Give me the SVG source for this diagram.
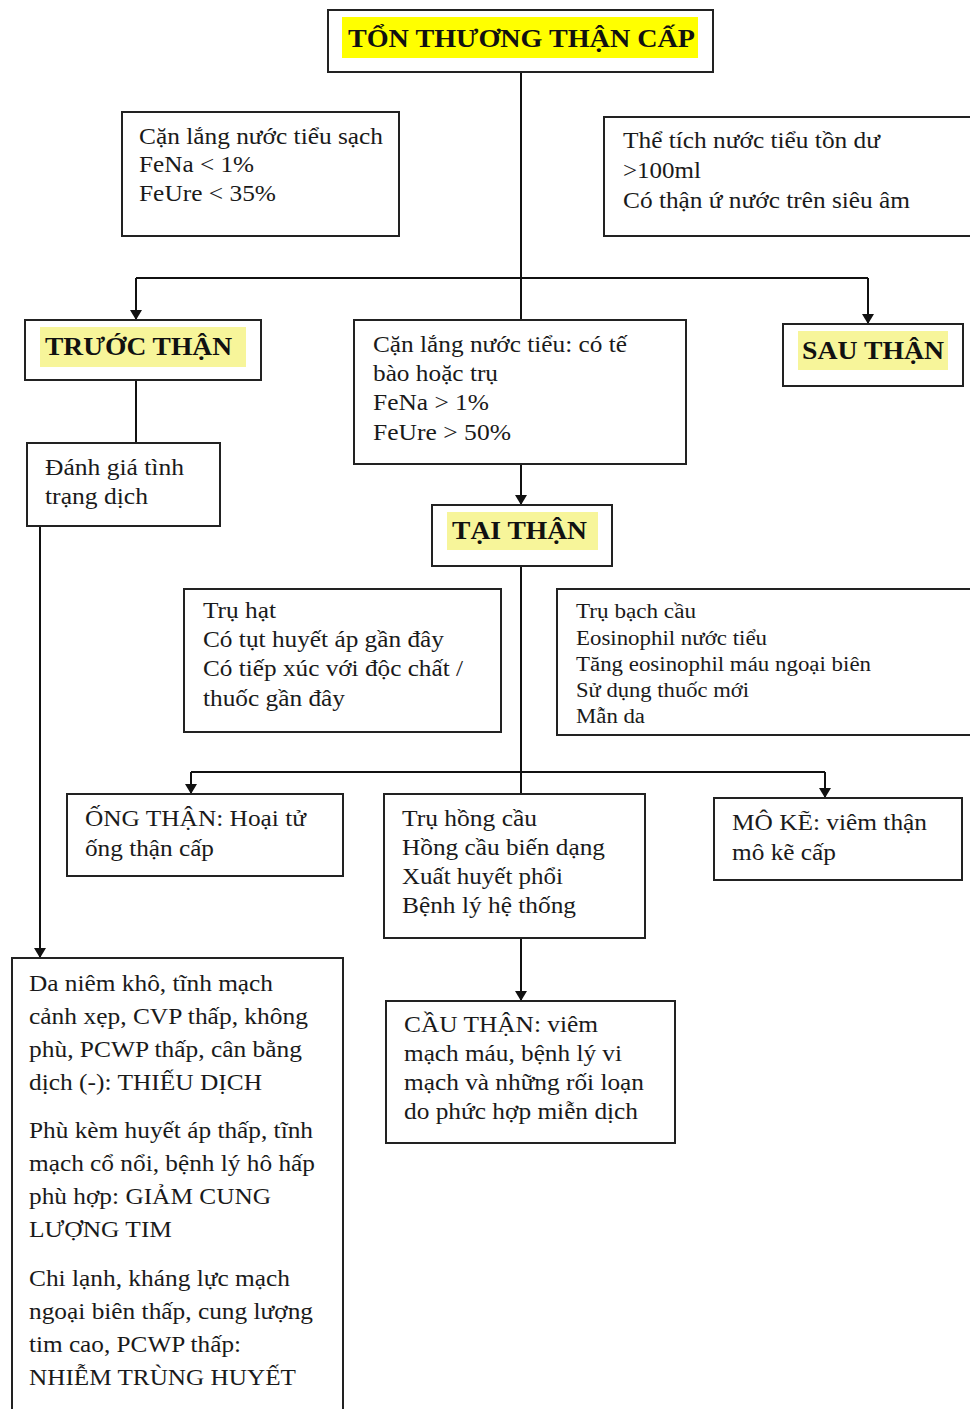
<svg xmlns="http://www.w3.org/2000/svg" width="970" height="1409" viewBox="0 0 970 1409">
  <style>
    .box { fill: #ffffff; stroke: #222222; stroke-width: 2; }
    .wire { fill: none; stroke: #111111; stroke-width: 2; }
    .t { font-family: "Liberation Serif", "Times New Roman", serif; font-size: 23.5px; fill: #1a1a1a; }
    .s { font-family: "Liberation Serif", "Times New Roman", serif; font-size: 20px; fill: #1a1a1a; }
    .b { font-family: "Liberation Serif", "Times New Roman", serif; font-size: 26px; font-weight: bold; fill: #111111; }
    .hl { fill: #f7f59a; }
    .hl-main { fill: #ffff00; }
  </style>
  <defs>
    <marker id="arrow" viewBox="0 0 10 12" refX="10" refY="6" markerWidth="10" markerHeight="12" markerUnits="userSpaceOnUse" orient="auto">
      <path d="M0,0 L10,6 L0,12 Z" fill="#111111"/>
    </marker>
  </defs>
  <rect width="970" height="1409" fill="#ffffff"/>

  <g id="connectors">
    <path class="wire" d="M521,72 V320"/>
    <path class="wire" d="M136,278 H868"/>
    <path class="wire" d="M136,278 V320" marker-end="url(#arrow)"/>
    <path class="wire" d="M868,278 V324" marker-end="url(#arrow)"/>
    <path class="wire" d="M136,380 V443"/>
    <path class="wire" d="M40,526 V958" marker-end="url(#arrow)"/>
    <path class="wire" d="M521,464 V505" marker-end="url(#arrow)"/>
    <path class="wire" d="M521,566 V794"/>
    <path class="wire" d="M191,772 H825"/>
    <path class="wire" d="M191,772 V794" marker-end="url(#arrow)"/>
    <path class="wire" d="M825,772 V798" marker-end="url(#arrow)"/>
    <path class="wire" d="M521,938 V1001" marker-end="url(#arrow)"/>
  </g>

  <g id="ton-thuong-than-cap">
    <rect class="box" x="328" y="10" width="385" height="62"/>
    <rect class="hl-main" x="342" y="17" width="356" height="41"/>
    <text class="b" x="348" y="47" textLength="347" lengthAdjust="spacingAndGlyphs">TỔN THƯƠNG THẬN CẤP</text>
  </g>

  <g id="tieu-chuan-truoc-than">
    <rect class="box" x="122" y="112" width="277" height="124"/>
    <text class="t" x="139" y="144" textLength="244" lengthAdjust="spacingAndGlyphs">Cặn lắng nước tiểu sạch</text>
    <text class="t" x="139" y="172" textLength="115" lengthAdjust="spacingAndGlyphs">FeNa &lt; 1%</text>
    <text class="t" x="139" y="201" textLength="137" lengthAdjust="spacingAndGlyphs">FeUre &lt; 35%</text>
  </g>

  <g id="tieu-chuan-sau-than">
    <rect class="box" x="604" y="117" width="380" height="119"/>
    <text class="t" x="623" y="148" textLength="257" lengthAdjust="spacingAndGlyphs">Thể tích nước tiểu tồn dư</text>
    <text class="t" x="623" y="178" textLength="78" lengthAdjust="spacingAndGlyphs">&gt;100ml</text>
    <text class="t" x="623" y="208" textLength="287" lengthAdjust="spacingAndGlyphs">Có thận ứ nước trên siêu âm</text>
  </g>

  <g id="truoc-than">
    <rect class="box" x="25" y="320" width="236" height="60"/>
    <rect class="hl" x="40" y="327" width="206" height="40"/>
    <text class="b" x="45" y="355" textLength="187" lengthAdjust="spacingAndGlyphs">TRƯỚC THẬN</text>
  </g>

  <g id="tieu-chuan-tai-than">
    <rect class="box" x="354" y="320" width="332" height="144"/>
    <text class="t" x="373" y="352" textLength="254" lengthAdjust="spacingAndGlyphs">Cặn lắng nước tiểu: có tế</text>
    <text class="t" x="373" y="381" textLength="125" lengthAdjust="spacingAndGlyphs">bào hoặc trụ</text>
    <text class="t" x="373" y="410" textLength="116" lengthAdjust="spacingAndGlyphs">FeNa &gt; 1%</text>
    <text class="t" x="373" y="440" textLength="138" lengthAdjust="spacingAndGlyphs">FeUre &gt; 50%</text>
  </g>

  <g id="sau-than">
    <rect class="box" x="783" y="324" width="180" height="62"/>
    <rect class="hl" x="798" y="331" width="150" height="39"/>
    <text class="b" x="802" y="359" textLength="142" lengthAdjust="spacingAndGlyphs">SAU THẬN</text>
  </g>

  <g id="danh-gia-dich">
    <rect class="box" x="27" y="443" width="193" height="83"/>
    <text class="t" x="45" y="475" textLength="139" lengthAdjust="spacingAndGlyphs">Đánh giá tình</text>
    <text class="t" x="45" y="504" textLength="103" lengthAdjust="spacingAndGlyphs">trạng dịch</text>
  </g>

  <g id="tai-than">
    <rect class="box" x="432" y="505" width="180" height="61"/>
    <rect class="hl" x="447" y="512" width="151" height="38"/>
    <text class="b" x="452" y="539" textLength="135" lengthAdjust="spacingAndGlyphs">TẠI THẬN</text>
  </g>

  <g id="tieu-chuan-ong-than">
    <rect class="box" x="184" y="589" width="317" height="143"/>
    <text class="t" x="203" y="618" textLength="73" lengthAdjust="spacingAndGlyphs">Trụ hạt</text>
    <text class="t" x="203" y="647" textLength="241" lengthAdjust="spacingAndGlyphs">Có tụt huyết áp gần đây</text>
    <text class="t" x="203" y="676" textLength="260" lengthAdjust="spacingAndGlyphs">Có tiếp xúc với độc chất /</text>
    <text class="t" x="203" y="706" textLength="142" lengthAdjust="spacingAndGlyphs">thuốc gần đây</text>
  </g>

  <g id="tieu-chuan-mo-ke">
    <rect class="box" x="557" y="589" width="430" height="146"/>
    <text class="s" x="576" y="618" textLength="120" lengthAdjust="spacingAndGlyphs">Trụ bạch cầu</text>
    <text class="s" x="576" y="645" textLength="191" lengthAdjust="spacingAndGlyphs">Eosinophil nước tiểu</text>
    <text class="s" x="576" y="671" textLength="295" lengthAdjust="spacingAndGlyphs">Tăng eosinophil máu ngoại biên</text>
    <text class="s" x="576" y="697" textLength="173" lengthAdjust="spacingAndGlyphs">Sử dụng thuốc mới</text>
    <text class="s" x="576" y="723" textLength="69" lengthAdjust="spacingAndGlyphs">Mẫn da</text>
  </g>

  <g id="ong-than">
    <rect class="box" x="67" y="794" width="276" height="82"/>
    <text class="t" x="85" y="826" textLength="221" lengthAdjust="spacingAndGlyphs">ỐNG THẬN: Hoại tử</text>
    <text class="t" x="85" y="856" textLength="129" lengthAdjust="spacingAndGlyphs">ống thận cấp</text>
  </g>

  <g id="tieu-chuan-cau-than">
    <rect class="box" x="384" y="794" width="261" height="144"/>
    <text class="t" x="402" y="826" textLength="135" lengthAdjust="spacingAndGlyphs">Trụ hồng cầu</text>
    <text class="t" x="402" y="855" textLength="203" lengthAdjust="spacingAndGlyphs">Hồng cầu biến dạng</text>
    <text class="t" x="402" y="884" textLength="161" lengthAdjust="spacingAndGlyphs">Xuất huyết phổi</text>
    <text class="t" x="402" y="913" textLength="174" lengthAdjust="spacingAndGlyphs">Bệnh lý hệ thống</text>
  </g>

  <g id="mo-ke">
    <rect class="box" x="714" y="798" width="248" height="82"/>
    <text class="t" x="732" y="830" textLength="195" lengthAdjust="spacingAndGlyphs">MÔ KẼ: viêm thận</text>
    <text class="t" x="732" y="860" textLength="104" lengthAdjust="spacingAndGlyphs">mô kẽ cấp</text>
  </g>

  <g id="cau-than">
    <rect class="box" x="386" y="1001" width="289" height="142"/>
    <text class="t" x="404" y="1032" textLength="194" lengthAdjust="spacingAndGlyphs">CẦU THẬN: viêm</text>
    <text class="t" x="404" y="1061" textLength="218" lengthAdjust="spacingAndGlyphs">mạch máu, bệnh lý vi</text>
    <text class="t" x="404" y="1090" textLength="240" lengthAdjust="spacingAndGlyphs">mạch và những rối loạn</text>
    <text class="t" x="404" y="1119" textLength="234" lengthAdjust="spacingAndGlyphs">do phức hợp miễn dịch</text>
  </g>

  <g id="tinh-trang-dich">
    <rect class="box" x="12" y="958" width="331" height="470"/>
    <text class="t" x="29" y="991" textLength="244" lengthAdjust="spacingAndGlyphs">Da niêm khô, tĩnh mạch</text>
    <text class="t" x="29" y="1024" textLength="279" lengthAdjust="spacingAndGlyphs">cảnh xẹp, CVP thấp, không</text>
    <text class="t" x="29" y="1057" textLength="273" lengthAdjust="spacingAndGlyphs">phù, PCWP thấp, cân bằng</text>
    <text class="t" x="29" y="1090" textLength="233" lengthAdjust="spacingAndGlyphs">dịch (-): THIẾU DỊCH</text>
    <text class="t" x="29" y="1138" textLength="284" lengthAdjust="spacingAndGlyphs">Phù kèm huyết áp thấp, tĩnh</text>
    <text class="t" x="29" y="1171" textLength="286" lengthAdjust="spacingAndGlyphs">mạch cổ nổi, bệnh lý hô hấp</text>
    <text class="t" x="29" y="1204" textLength="242" lengthAdjust="spacingAndGlyphs">phù hợp: GIẢM CUNG</text>
    <text class="t" x="29" y="1237" textLength="143" lengthAdjust="spacingAndGlyphs">LƯỢNG TIM</text>
    <text class="t" x="29" y="1286" textLength="261" lengthAdjust="spacingAndGlyphs">Chi lạnh, kháng lực mạch</text>
    <text class="t" x="29" y="1319" textLength="284" lengthAdjust="spacingAndGlyphs">ngoại biên thấp, cung lượng</text>
    <text class="t" x="29" y="1352" textLength="212" lengthAdjust="spacingAndGlyphs">tim cao, PCWP thấp:</text>
    <text class="t" x="29" y="1385" textLength="267" lengthAdjust="spacingAndGlyphs">NHIỄM TRÙNG HUYẾT</text>
  </g>
</svg>
